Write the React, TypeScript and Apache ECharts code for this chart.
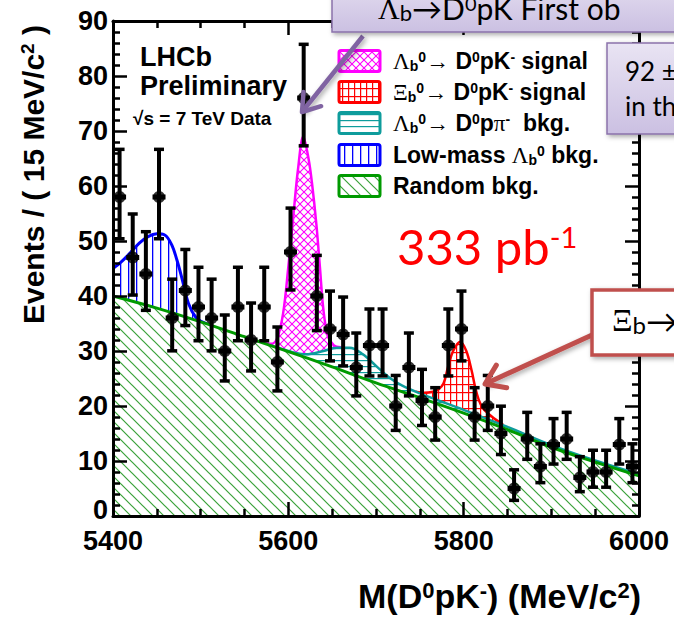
import React, { useEffect, useRef } from "react";
import * as echarts from "echarts";

// ---------- data ----------
const binCenters = [
  5407.5, 5422.5, 5437.5, 5452.5, 5467.5, 5482.5, 5497.5, 5512.5, 5527.5, 5542.5,
  5557.5, 5572.5, 5587.5, 5602.5, 5617.5, 5632.5, 5647.5, 5662.5, 5677.5, 5692.5,
  5707.5, 5722.5, 5737.5, 5752.5, 5767.5, 5782.5, 5797.5, 5812.5, 5827.5, 5842.5,
  5857.5, 5872.5, 5887.5, 5902.5, 5917.5, 5932.5, 5947.5, 5962.5, 5977.5, 5992.5,
];
const counts = [
  58, 47, 44, 58, 36, 41, 38, 36, 30, 38,
  32, 38, 28, 48, 76, 40, 34, 33, 27, 31,
  31, 20, 27, 21, 18, 31, 34, 18, 20, 15,
  5, 14, 9, 13, 14, 7, 8, 8, 13, 9,
];
// fit components (cumulative curves)
const randomBkgCurve = [
  [5400, 40], [5450, 37.8], [5500, 35.3], [5550, 32.6], [5600, 29.9], [5650, 27.1],
  [5700, 24.2], [5750, 21.5], [5800, 18.7], [5850, 15.7], [5900, 12.5], [5950, 9.8], [6000, 7.3],
];
const dppiBkgCurve = [
  [5580, 31.0], [5600, 30.0], [5620, 29.4], [5640, 30.0], [5655, 30.6], [5670, 30.6],
  [5685, 29.4], [5700, 27.3], [5715, 25.2], [5730, 23.7], [5750, 22.3], [5800, 19.3],
  [5850, 16.2], [5900, 12.9], [5950, 10.1], [6000, 7.6],
];
const lowMassCurve = [
  [5400, 45], [5410, 46.3], [5420, 47.9], [5430, 49.6], [5440, 50.8], [5450, 51.3],
  [5459, 51.1], [5467, 49.3], [5473, 46.5], [5479, 43], [5486, 38.7], [5495, 36],
  [5503, 35.2], [5512, 34.6],
];
const lbSignalCurve = [
  [5570, 31.6], [5580, 31.3], [5587, 32.2], [5594, 36.8], [5600, 45.3], [5606, 55],
  [5611, 63], [5617, 69], [5623, 65], [5627, 60.5], [5632, 53], [5636, 45.3],
  [5640, 37.5], [5645, 32.8], [5652, 31], [5660, 30.7],
];
const xibSignalCurve = [
  [5745, 22.6], [5755, 22.4], [5765, 22.6], [5771, 23.0], [5777, 24.1], [5782, 27.0],
  [5788, 30.0], [5796, 31.7], [5803, 30.0], [5809, 26.5], [5813, 23.5], [5817, 21.2],
  [5822, 19.6], [5832, 18.1], [5845, 16.6],
];
const xTicks = { min: 5400, max: 6000, interval: 200 };
const yTicks = { min: 0, max: 90, interval: 10 };

// ---------- helpers ----------
const C_MAG = "#ff00ff";
const C_RED = "#ff0000";
const C_TEAL = "#0e9c9c";
const C_BLUE = "#0000ff";
const C_GREEN = "#009a00";
const C_HATCH_GREEN = "#3aa23a";
const SANS = "'Liberation Sans', Arial, sans-serif";
const SERIF = "'Liberation Serif', 'DejaVu Serif', serif";

function makePattern(w: number, h: number, draw: (ctx: CanvasRenderingContext2D) => void) {
  const c = document.createElement("canvas");
  c.width = w;
  c.height = h;
  const ctx = c.getContext("2d") as CanvasRenderingContext2D;
  ctx.fillStyle = "#ffffff";
  ctx.fillRect(0, 0, w, h);
  draw(ctx);
  return { image: c, repeat: "repeat", imageWidth: w, imageHeight: h } as any;
}
function diag(ctx: CanvasRenderingContext2D, w: number, color: string, lw: number, back: boolean) {
  ctx.strokeStyle = color;
  ctx.lineWidth = lw;
  ctx.beginPath();
  if (back) {
    ctx.moveTo(-2, -2); ctx.lineTo(w + 2, w + 2);
    ctx.moveTo(-2, w - 2); ctx.lineTo(2, w + 2);
    ctx.moveTo(w - 2, -2); ctx.lineTo(w + 2, 2);
  } else {
    ctx.moveTo(-2, w + 2); ctx.lineTo(w + 2, -2);
    ctx.moveTo(-2, 2); ctx.lineTo(2, -2);
    ctx.moveTo(w - 2, w + 2); ctx.lineTo(w + 2, w - 2);
  }
  ctx.stroke();
}

function poissonLow(n: number) {
  if (n <= 0) return 0;
  return n * Math.pow(1 - 1 / (9 * n) - 1 / (3 * Math.sqrt(n)), 3);
}
function poissonHigh(n: number) {
  return n + Math.sqrt(n + 0.75) + 1;
}

export default function App() {
  const ref = useRef<HTMLDivElement>(null);
  useEffect(() => {
    if (!ref.current) return;
    const chart = echarts.init(ref.current, undefined, { renderer: "svg" });

    const pGreen = makePattern(11, 11, (ctx) => diag(ctx, 11, C_HATCH_GREEN, 1.2, true));
    const pMag = makePattern(8, 8, (ctx) => { diag(ctx, 8, C_MAG, 1.1, true); diag(ctx, 8, C_MAG, 1.1, false); });
    const pRed = makePattern(6, 8, (ctx) => { ctx.fillStyle = C_RED; ctx.fillRect(0, 0, 1.2, 8); ctx.fillRect(0, 0, 6, 1.2); });
    const pTeal = makePattern(6, 6, (ctx) => { ctx.fillStyle = C_TEAL; ctx.fillRect(0, 0, 6, 1.2); });
    const pBlue = makePattern(8, 8, (ctx) => { ctx.fillStyle = C_BLUE; ctx.fillRect(0, 0, 1.3, 8); });

    const curve = (name: string, data: number[][], color: string, width: number, pattern: any, z: number) => ({
      type: "line",
      name,
      data,
      smooth: 0.35,
      symbol: "none",
      showSymbol: false,
      silent: true,
      z,
      xAxisIndex: 0,
      yAxisIndex: 0,
      lineStyle: { color, width },
      areaStyle: { color: pattern, opacity: 1 },
    });

    const axisBase: any = {
      type: "value",
      z: 10,
      axisLine: { show: true, onZero: false, lineStyle: { color: "#000", width: 3 } },
      axisTick: { show: true, inside: true, length: 14, lineStyle: { color: "#000", width: 2.5 } },
      minorTick: { show: true, length: 7, lineStyle: { color: "#000", width: 2.5 } },
      splitLine: { show: false },
      minorSplitLine: { show: false },
    };
    const labelFont = {
      color: "#000",
      fontFamily: SANS,
      fontWeight: "bold",
      fontSize: 27,
    };

    const pointData = binCenters.map((m, i) => [m, counts[i]]);
    const errData = binCenters.map((m, i) => [m, poissonLow(counts[i]), poissonHigh(counts[i]), counts[i]]);

    const richCommon = {
      g: { fontFamily: SERIF, fontWeight: "normal", fontSize: 23, fill: "#000" },
      sup: { fontFamily: SANS, fontWeight: "bold", fontSize: 14, verticalAlign: "top", fill: "#000" },
      sub: { fontFamily: SANS, fontWeight: "bold", fontSize: 14, verticalAlign: "bottom", fill: "#000" },
    };
    const legendRows = [
      { y: 61, stroke: C_MAG, fill: pMag, text: "{g|Λ}{sub|b}{sup|0}{g|→} D{sup|0}pK{sup|-} signal" },
      { y: 92, stroke: C_RED, fill: pRed, text: "{g|Ξ}{sub|b}{sup|0}{g|→} D{sup|0}pK{sup|-} signal" },
      { y: 123, stroke: C_TEAL, fill: pTeal, text: "{g|Λ}{sub|b}{sup|0}{g|→} D{sup|0}p{g|π}{sup|-}  bkg." },
      { y: 155, stroke: C_BLUE, fill: pBlue, text: "Low-mass {g|Λ}{sub|b}{sup|0} bkg." },
      { y: 186, stroke: C_GREEN, fill: pGreen, text: "Random bkg." },
    ];
    const legendEls: any[] = [];
    legendRows.forEach((r) => {
      legendEls.push({
        type: "rect",
        shape: { x: 339, y: r.y - 10.5, width: 41, height: 21, r: 2 },
        style: { fill: r.fill, stroke: r.stroke, lineWidth: 3 },
        z: 30,
      });
      legendEls.push({
        type: "text",
        x: 393,
        y: r.y,
        z: 30,
        style: {
          text: r.text,
          fill: "#000",
          fontFamily: SANS,
          fontWeight: "bold",
          fontSize: 23,
          align: "left",
          verticalAlign: "middle",
          rich: richCommon,
        },
      });
    });

    const boxGrad = {
      type: "linear", x: 0, y: 0, x2: 0, y2: 1,
      colorStops: [{ offset: 0, color: "#e9e4f3" }, { offset: 1, color: "#cbc0e2" }],
    };
    const shadow = { shadowBlur: 5, shadowColor: "rgba(0,0,0,0.35)", shadowOffsetX: 2, shadowOffsetY: 2 };
    const pptFont = "Lato, 'Open Sans', sans-serif";

    const purpleArrow = { tip: [302, 112], tail: [363, 36] };
    const redArrow = { tip: [485, 384], tail: [592, 335] };
    const head = (a: { tip: number[]; tail: number[] }, len: number) => {
      const dx = a.tail[0] - a.tip[0], dy = a.tail[1] - a.tip[1];
      const L = Math.hypot(dx, dy);
      const ux = dx / L, uy = dy / L;
      const c = Math.cos(0.6), s = Math.sin(0.6);
      const w1 = [a.tip[0] + len * (c * ux - s * uy), a.tip[1] + len * (s * ux + c * uy)];
      const w2 = [a.tip[0] + len * (c * ux + s * uy), a.tip[1] + len * (-s * ux + c * uy)];
      return [w1, a.tip, w2];
    };

    const graphicEls: any[] = [
      // LHCb label
      { type: "text", x: 140, y: 57, z: 30, style: { text: "LHCb", fill: "#000", fontFamily: SANS, fontWeight: "bold", fontSize: 27, verticalAlign: "middle" } },
      { type: "text", x: 140, y: 86, z: 30, style: { text: "Preliminary", fill: "#000", fontFamily: SANS, fontWeight: "bold", fontSize: 27, verticalAlign: "middle" } },
      { type: "text", x: 133, y: 118, z: 30, style: { text: "√s = 7 TeV Data", fill: "#000", fontFamily: SANS, fontWeight: "bold", fontSize: 19, verticalAlign: "middle" } },
      ...legendEls,
      // luminosity
      {
        type: "text", x: 397, y: 246, z: 30,
        style: {
          text: "333 pb{sup|-1}", fill: C_RED, fontFamily: pptFont, fontSize: 49, verticalAlign: "middle",
          rich: { sup: { fontFamily: pptFont, fontSize: 29, fill: C_RED, verticalAlign: "top" } },
        },
      },
      // top callout box
      { type: "rect", z: 40, shape: { x: 332, y: -30, width: 380, height: 62 }, style: { fill: boxGrad, stroke: "#8a72ab", lineWidth: 1.5, ...shadow } },
      {
        type: "text", x: 378, y: 8, z: 41,
        style: {
          text: "{g|Λ}{sub|b}→D{sup|0}pK First ob", fill: "#000", fontFamily: pptFont, fontSize: 30, verticalAlign: "middle",
          rich: {
            g: { fontFamily: SERIF, fontSize: 30, fill: "#000" },
            sub: { fontFamily: pptFont, fontSize: 22, fill: "#000", verticalAlign: "bottom" },
            sup: { fontFamily: pptFont, fontSize: 20, fill: "#000", verticalAlign: "top" },
          },
        },
      },
      // second callout box
      { type: "rect", z: 40, shape: { x: 607, y: 43, width: 120, height: 91 }, style: { fill: boxGrad, stroke: "#8a72ab", lineWidth: 1.5, ...shadow } },
      { type: "text", x: 625, y: 71, z: 41, style: { text: "92 ±", fill: "#000", fontFamily: pptFont, fontSize: 26, verticalAlign: "middle" } },
      { type: "text", x: 625, y: 106, z: 41, style: { text: "in th", fill: "#000", fontFamily: pptFont, fontSize: 26, verticalAlign: "middle" } },
      // third callout box
      { type: "rect", z: 40, shape: { x: 592, y: 290, width: 120, height: 65 }, style: { fill: "#ffffff", stroke: "#c0504d", lineWidth: 3.5, ...shadow } },
      {
        type: "text", x: 612, y: 320, z: 41,
        style: {
          text: "{g|Ξ}{sub|b}→", fill: "#000", fontFamily: pptFont, fontSize: 32, verticalAlign: "middle",
          rich: {
            g: { fontFamily: SERIF, fontSize: 32, fill: "#000" },
            sub: { fontFamily: pptFont, fontSize: 24, fill: "#000", verticalAlign: "bottom" },
          },
        },
      },
      // arrows
      { type: "line", z: 39, shape: { x1: purpleArrow.tail[0], y1: purpleArrow.tail[1], x2: purpleArrow.tip[0], y2: purpleArrow.tip[1] }, style: { stroke: "#8064a2", lineWidth: 4.5, ...shadow } },
      { type: "polyline", z: 39, shape: { points: head(purpleArrow, 20) }, style: { stroke: "#8064a2", lineWidth: 4.5, fill: null, lineCap: "round", lineJoin: "round" } },
      { type: "line", z: 39, shape: { x1: redArrow.tail[0], y1: redArrow.tail[1], x2: redArrow.tip[0], y2: redArrow.tip[1] }, style: { stroke: "#c0504d", lineWidth: 5, ...shadow } },
      { type: "polyline", z: 39, shape: { points: head(redArrow, 22) }, style: { stroke: "#c0504d", lineWidth: 5, fill: null, lineCap: "round", lineJoin: "round" } },
      // axis titles
      {
        type: "text", x: 641, y: 596, z: 30,
        style: {
          text: "M(D{sup|0}pK{sup|-}) (MeV/c{sup|2})", fill: "#000", fontFamily: SANS,
          fontWeight: "bold", fontSize: 34, align: "right", verticalAlign: "middle",
          rich: { sup: { fontFamily: SANS, fontWeight: "bold", fontSize: 22, fill: "#000", verticalAlign: "top" } },
        },
      },
      {
        type: "text", x: 33, y: 25, rotation: Math.PI / 2, z: 30,
        style: {
          text: "Events / ( 15 MeV/c{sup|2} )", fill: "#000", fontFamily: SANS,
          fontWeight: "bold", fontSize: 30, align: "right", verticalAlign: "middle",
          rich: { sup: { fontFamily: SANS, fontWeight: "bold", fontSize: 19, fill: "#000", verticalAlign: "top" } },
        },
      },
    ];

    const option: any = {
      animation: false,
      grid: { left: 113, right: 35, top: 21, bottom: 101, containLabel: false },
      xAxis: [
        {
          ...axisBase, position: "bottom", ...xTicks,
          minorTick: { ...axisBase.minorTick, splitNumber: 4 },
          axisLabel: { ...labelFont, margin: 11, showMinLabel: true, showMaxLabel: true, formatter: (v: number) => String(v) },
        },
        {
          ...axisBase, position: "top", ...xTicks,
          minorTick: { ...axisBase.minorTick, splitNumber: 4 },
          axisLabel: { show: false },
        },
      ],
      yAxis: [
        {
          ...axisBase, position: "left", ...yTicks,
          minorTick: { ...axisBase.minorTick, splitNumber: 5 },
          axisLabel: {
            ...labelFont, margin: 5, showMinLabel: true, showMaxLabel: true,
            formatter: (v: number) => (v === 0 ? "{z|0}" : String(v)),
            rich: { z: { ...labelFont, padding: [0, 0, 12, 0] } },
          },
        },
        {
          ...axisBase, position: "right", ...yTicks,
          minorTick: { ...axisBase.minorTick, splitNumber: 5 },
          axisLabel: { show: false },
        },
      ],
      series: [
        curve("Λb0→D0pK- signal", lbSignalCurve, C_MAG, 2.5, pMag, 2),
        curve("Ξb0→D0pK- signal", xibSignalCurve, C_RED, 2.5, pRed, 2),
        curve("Low-mass Λb0 bkg.", lowMassCurve, C_BLUE, 3, pBlue, 2),
        curve("Λb0→D0pπ- bkg.", dppiBkgCurve, C_TEAL, 2.5, pTeal, 3),
        curve("Random bkg.", randomBkgCurve, C_GREEN, 3, pGreen, 4),
        {
          type: "custom",
          name: "errors",
          data: errData,
          z: 6,
          silent: true,
          encode: { x: 0, y: [1, 2] },
          renderItem: (params: any, api: any) => {
            const x = api.value(0), lo = api.value(1), hi = api.value(2), n = api.value(3);
            const pTop = api.coord([x, hi]);
            const pBot = api.coord([x, lo]);
            const pC = api.coord([x, n]);
            const cx = pTop[0];
            const st = { stroke: "#000", lineWidth: 4 };
            return {
              type: "group",
              children: [
                { type: "line", shape: { x1: cx, y1: pTop[1], x2: cx, y2: pBot[1] }, style: st },
                { type: "line", shape: { x1: cx - 5, y1: pTop[1], x2: cx + 5, y2: pTop[1] }, style: { stroke: "#000", lineWidth: 3.5 } },
                { type: "line", shape: { x1: cx - 5, y1: pBot[1], x2: cx + 5, y2: pBot[1] }, style: { stroke: "#000", lineWidth: 3.5 } },
                { type: "line", shape: { x1: cx - 6.5, y1: pC[1], x2: cx + 6.5, y2: pC[1] }, style: { stroke: "#000", lineWidth: 5 } },
              ],
            };
          },
        },
        {
          type: "scatter",
          name: "data",
          data: pointData,
          symbol: "circle",
          symbolSize: 12,
          z: 7,
          silent: true,
          itemStyle: { color: "#000" },
        },
      ],
      graphic: { elements: graphicEls },
    };
    chart.setOption(option);
    return () => chart.dispose();
  }, []);

  return (
    <div
      ref={ref}
      style={{ position: "fixed", left: 0, top: 0, width: 674, height: 617, background: "#fff" }}
    />
  );
}
